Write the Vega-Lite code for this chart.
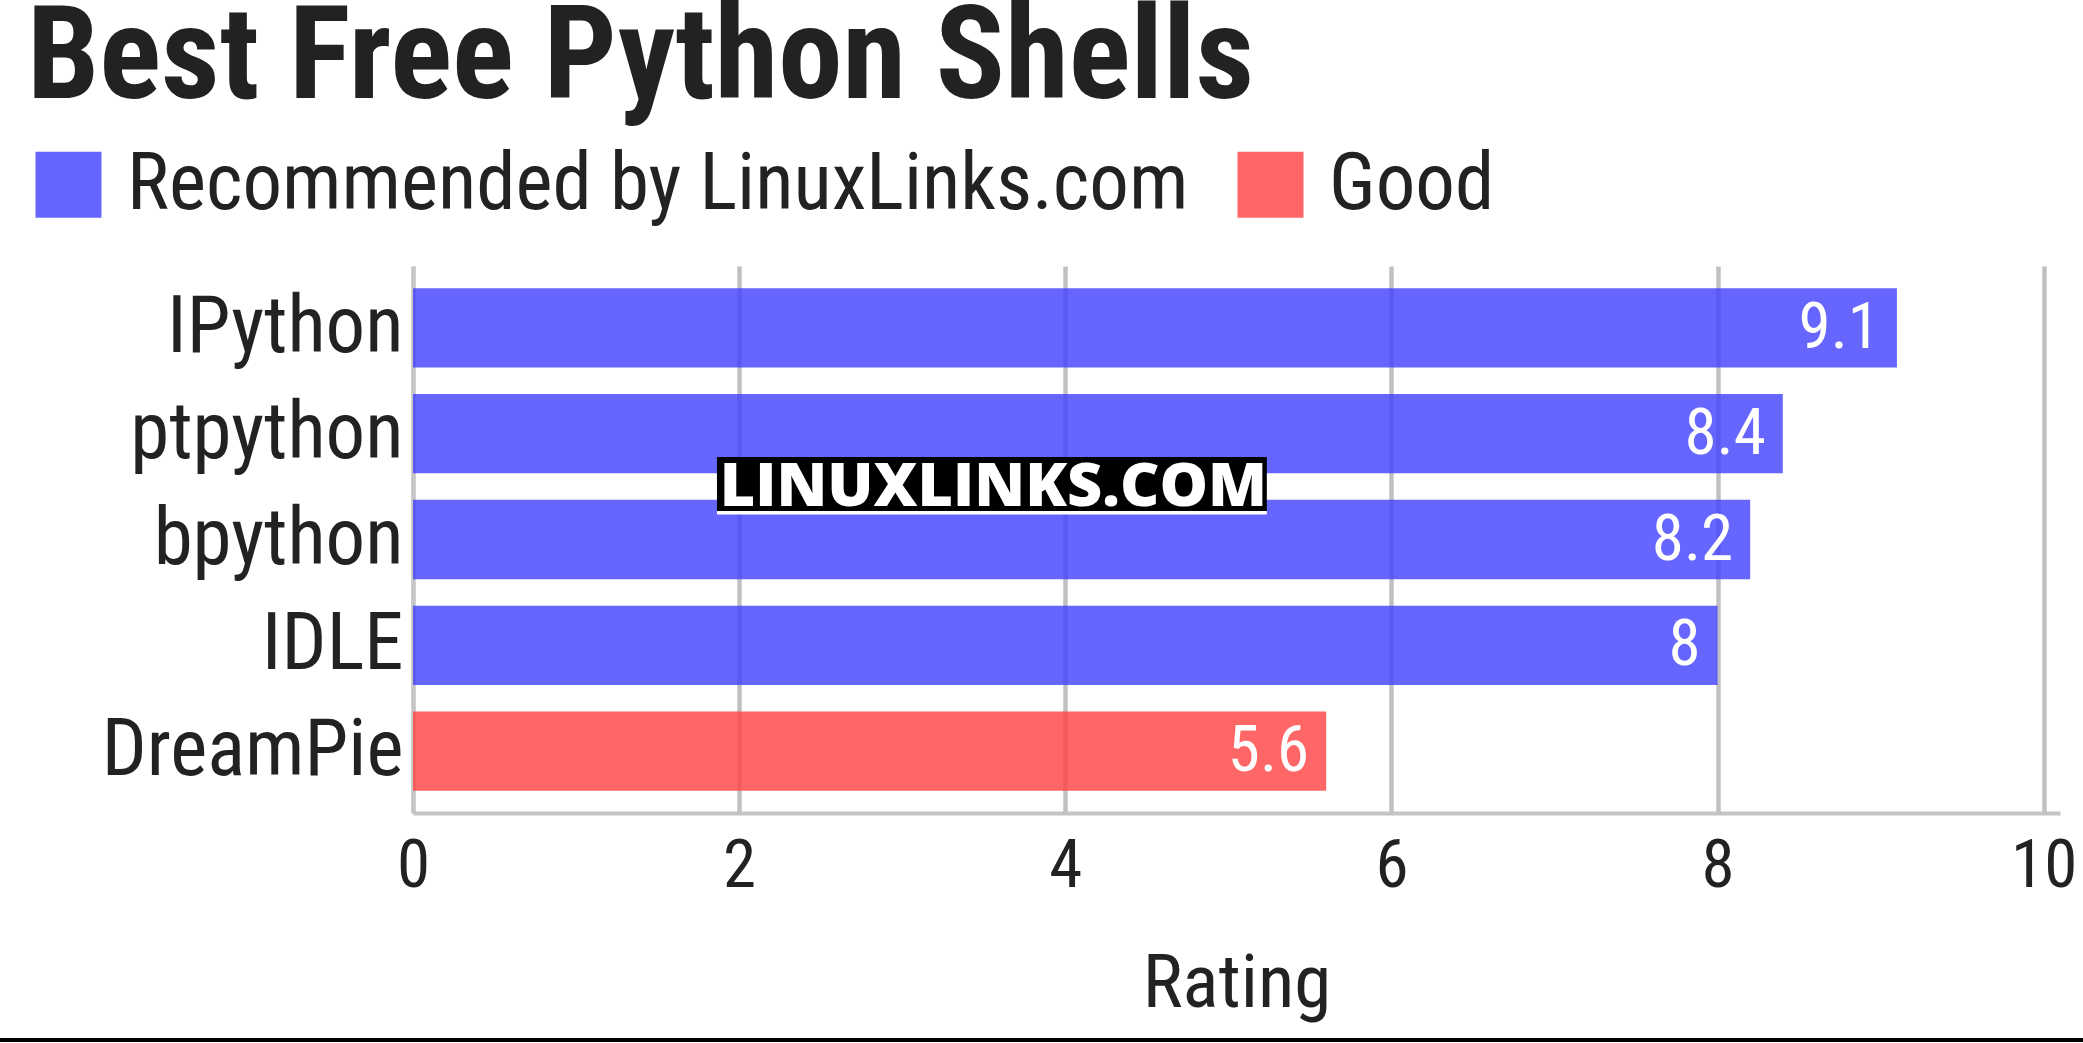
{
  "$schema": "https://vega.github.io/schema/vega-lite/v6.json",
  "autosize": {"type": "none"},
  "padding": {"left": 413, "top": 266, "right": 23, "bottom": 230},
  "width": 1647,
  "height": 547,
  "background": "white",
  "title": {
    "text": "Best Free Python Shells",
    "anchor": "start",
    "frame": "group",
    "font": "Roboto Condensed, Roboto",
    "fontWeight": "bold",
    "fontSize": 129,
    "color": "#222222",
    "baseline": "alphabetic",
    "dx": -386,
    "dy": 92,
    "offset": 10
  },
  "config": {
    "view": {"stroke": null},
    "font": "Roboto Condensed, Roboto",
    "text": {"font": "Roboto Condensed, Roboto"}
  },
  "layer": [
    {
      "data": {
        "values": [
          {"name": "IPython", "rating": 9.1, "category": "Recommended by LinuxLinks.com"},
          {"name": "ptpython", "rating": 8.4, "category": "Recommended by LinuxLinks.com"},
          {"name": "bpython", "rating": 8.2, "category": "Recommended by LinuxLinks.com"},
          {"name": "IDLE", "rating": 8, "category": "Recommended by LinuxLinks.com"},
          {"name": "DreamPie", "rating": 5.6, "category": "Good"}
        ]
      },
      "encoding": {
        "y": {
          "field": "name",
          "type": "nominal",
          "sort": ["IPython", "ptpython", "bpython", "IDLE", "DreamPie"],
          "scale": {"paddingInner": 0.25, "paddingOuter": 0.21},
          "axis": {
            "title": null,
            "labelFontSize": 79,
            "labelColor": "#222222",
            "labelPadding": 10,
            "labelLimit": 1000,
            "ticks": false,
            "domain": true,
            "domainColor": "#c8c8c8",
            "domainWidth": 2,
            "grid": false,
            "labelFont": "Roboto Condensed, Roboto"
          }
        },
        "x": {
          "field": "rating",
          "type": "quantitative",
          "scale": {"domain": [0, 10.1], "nice": false},
          "axis": {
            "title": "Rating",
            "titleFontSize": 75,
            "titleFontWeight": "normal",
            "titleColor": "#222222",
            "titlePadding": 48,
            "titleFont": "Roboto Condensed, Roboto",
            "values": [0, 2, 4, 6, 8, 10],
            "format": "d",
            "labelFontSize": 67,
            "labelColor": "#222222",
            "labelFont": "Roboto Condensed, Roboto",
            "labelPadding": 20,
            "labelFlush": false,
            "ticks": false,
            "grid": true,
            "gridColor": "#c0c0c0",
            "gridWidth": 4.5,
            "domainColor": "#c4c4c4",
            "domainWidth": 4
          }
        }
      },
      "layer": [
        {
          "mark": {"type": "bar", "opacity": 0.8},
          "encoding": {
            "color": {
              "field": "category",
              "type": "nominal",
              "scale": {
                "domain": ["Recommended by LinuxLinks.com", "Good"],
                "range": ["#4040ff", "#ff4040"]
              },
              "legend": {
                "title": null,
                "orient": "none",
                "legendX": -384,
                "legendY": -121,
                "direction": "horizontal",
                "symbolType": "square",
                "symbolSize": 4356,
                "symbolStrokeWidth": 0,
                "symbolOpacity": 0.8,
                "labelFontSize": 79,
                "labelColor": "#222222",
                "labelFont": "Roboto Condensed, Roboto",
                "labelOffset": 19,
                "columnPadding": 42,
                "labelLimit": 2000
              }
            }
          }
        },
        {
          "mark": {"type": "text", "align": "right", "baseline": "middle", "dx": -17, "fontSize": 65, "color": "white", "font": "Roboto Condensed, Roboto"},
          "encoding": {
            "text": {"field": "rating", "type": "quantitative"}
          }
        }
      ]
    },
    {
      "data": {"values": [{}]},
      "layer": [
        {
          "mark": {"type": "rect", "color": "black", "clip": false},
          "encoding": {
            "x": {"datum": 1.864, "type": "quantitative"},
            "x2": {"datum": 5.236},
            "y": {"datum": 0.6508, "type": "quantitative", "scale": {"domain": [0, 1], "nice": false, "zero": false}, "axis": null},
            "y2": {"datum": 0.5521}
          }
        },
        {
          "mark": {"type": "rect", "color": "white", "clip": false},
          "encoding": {
            "x": {"datum": 1.864, "type": "quantitative"},
            "x2": {"datum": 5.236},
            "y": {"datum": 0.5521, "type": "quantitative", "scale": {"domain": [0, 1], "nice": false, "zero": false}, "axis": null},
            "y2": {"datum": 0.5457}
          }
        },
        {
          "mark": {"type": "text", "color": "white", "font": "Open Sans", "fontWeight": 800, "fontSize": 61, "align": "center", "baseline": "alphabetic", "clip": false},
          "encoding": {
            "x": {"datum": 3.559, "type": "quantitative"},
            "y": {"datum": 0.5612, "type": "quantitative", "scale": {"domain": [0, 1], "nice": false, "zero": false}, "axis": null},
            "text": {"value": "LINUXLINKS.COM"}
          }
        },
        {
          "mark": {"type": "rule", "color": "black", "strokeWidth": 4, "clip": false},
          "encoding": {
            "x": {"datum": -2.6, "type": "quantitative"},
            "x2": {"datum": 10.3},
            "y": {"datum": -0.415, "type": "quantitative", "scale": {"domain": [0, 1], "nice": false, "zero": false}, "axis": null}
          }
        }
      ]
    }
  ],
  "resolve": {"scale": {"y": "independent"}}
}
